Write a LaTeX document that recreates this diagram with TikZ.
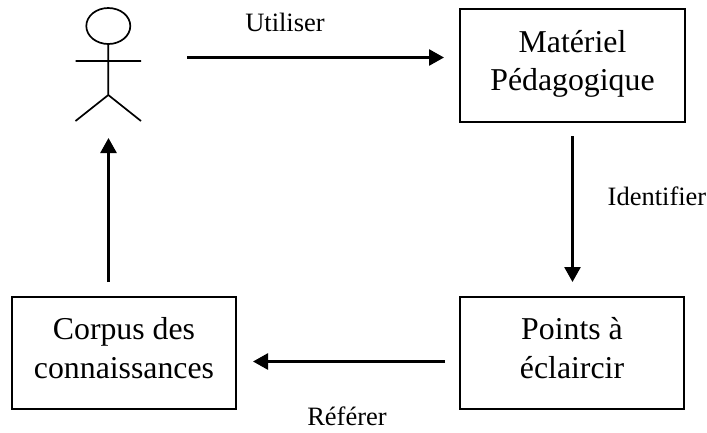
\documentclass[tikz,border=0pt]{standalone}
\usepackage{fontspec}
\setmainfont{Liberation Serif}
\usetikzlibrary{arrows.meta,shapes.geometric}
\newcommand{\upshift}{\\[-28pt]\mbox{}}
\tikzset{
 x=1pt,y=-1pt,
 box/.style={draw,line width=1.7pt,align=center,font=\fontsize{31.8}{38.5}\selectfont,inner sep=0pt},
 lbl/.style={font=\fontsize{26.5}{30}\selectfont,inner sep=0pt},
 conn/.style={line width=2.7pt,-{Triangle[length=15pt,width=16pt]}},
 fig/.style={line width=1.7pt}
}
\begin{document}
\begin{tikzpicture}
\useasboundingbox (0,0) rectangle (707,432);
\node[box,minimum width=225pt,minimum height=113pt] (m) at (572.5,65.5) {Matériel\\Pédagogique\upshift};
\node[box,minimum width=224pt,minimum height=112pt] (p) at (572,353) {Points à\\éclaircir\upshift};
\node[box,minimum width=224pt,minimum height=112pt] (c) at (124,353) {Corpus des\\connaissances\upshift};
\node[draw,ellipse,fig,minimum width=44pt,minimum height=36pt,inner sep=0pt] (head) at (108.3,26) {};
\coordinate (hip) at (108.3,95);
\coordinate (a1) at (75.5,61);\coordinate (a2) at (141,61);
\coordinate (l1) at (75.5,121);\coordinate (l2) at (141,121);
\draw[fig] (head.south) -- (hip) (a1) -- (a2) (hip) -- (l1) (hip) -- (l2);
\coordinate (ar) at (187,57.5);\coordinate (ae) at (444,57.5);
\coordinate (ds) at (572.5,136);\coordinate (de) at (572.5,282);
\coordinate (ls) at (445,361.5);\coordinate (le) at (253,361.5);
\coordinate (fb) at (108.5,282);\coordinate (ft) at (108.5,138);
\draw[conn] (ar) -- (ae);
\draw[conn] (ds) -- (de);
\draw[conn] (ls) -- (le);
\draw[conn] (fb) -- (ft);
\node[lbl] (u) at (285,22) {Utiliser};
\node[lbl] (i) at (657,196) {Identifier};
\node[lbl] (r) at (347,416) {Référer};
\end{tikzpicture}
\end{document}
